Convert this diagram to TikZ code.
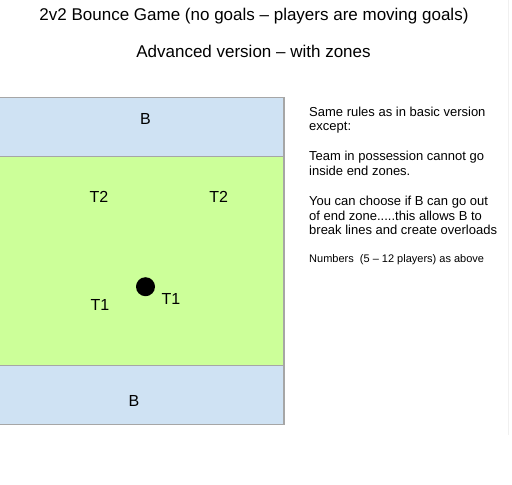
\documentclass[tikz,border=0pt]{standalone}
\usepackage{fontspec}
\setmainfont{Liberation Sans}
\usetikzlibrary{positioning}

\definecolor{zoneblue}{HTML}{CFE2F3}
\definecolor{zonegreen}{HTML}{CCFF99}
\definecolor{zoneline}{HTML}{A6A6A6}

\begin{document}
\begin{tikzpicture}[x=1pt, y=-1pt]
        \tikzstyle{zone} = [rectangle, draw=zoneline, line width=1.2pt, minimum width=300pt, inner sep=0pt]
        \tikzstyle{player} = [font=\fontsize{16}{19}\selectfont, inner sep=0pt, anchor=base]
        \tikzstyle{heading} = [font=\fontsize{17}{20}\selectfont, inner sep=0pt, anchor=base]
        \tikzstyle{note} = [font=\fontsize{13}{14.5}\selectfont, align=left, inner sep=0pt, anchor=base west]

    \useasboundingbox (0,0) rectangle (512,485);
    \draw [black!6] (508,0) -- (508,435);

    \node [heading] (title) at (254,20) {2v2 Bounce Game (no goals -- players are moving goals)};
    \node [heading] (subtitle) at (253.5,57) {Advanced version -- with zones};

    % pitch
    \node [zone, fill=zonegreen, minimum height=209.4pt] (middle zone) at (134,261) {};
    \node [zone, fill=zoneblue, minimum height=59pt] (top zone) at (134,126.8) {};
    \node [zone, fill=zoneblue, minimum height=58.6pt] (bottom zone) at (134,395) {};

    \node [player] (top bouncer) at (145.5,124) {B};
    \node [player] (bottom bouncer) at (134,406.5) {B};
    \node [player] (t2 left) at (99,202) {T2};
    \node [player] (t2 right) at (218.8,202) {T2};
    \node [player] (t1 left) at (100,310) {T1};
    \node [player] (t1 right) at (171,304) {T1};
    \node [circle, fill=black, minimum size=19pt, inner sep=0pt] (ball) at (145.5,286.7) {};

    % rules (base = last line)
    \node [note] (rules) at (309,130.5) {Same rules as in basic version\\except:};
    \node [note] (possession) at (309,175) {Team in possession cannot go\\inside end zones.};
    \node [note] (choice) at (309,234.5) {You can choose if B can go out\\of end zone.....this allows B to\\break lines and create overloads};
    \node [note, font=\fontsize{11}{13}\selectfont] (numbers) at (309,262.5) {Numbers~ (5 -- 12 players) as above};

    \end{tikzpicture}
\end{document}
